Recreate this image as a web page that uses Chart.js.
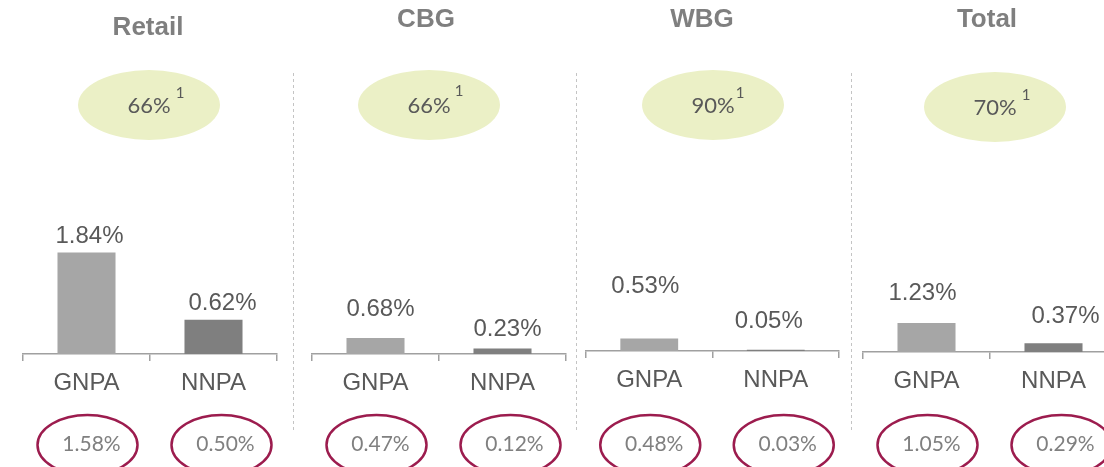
<!DOCTYPE html>
<html>
<head>
<meta charset="utf-8">
<script src="https://cdn.jsdelivr.net/npm/chart.js@4/dist/chart.umd.min.js"></script>
<style>
    html, body { margin: 0; padding: 0; background: #fff; }
    body { width: 1104px; height: 467px; position: relative; overflow: hidden; }
    canvas { position: absolute; top: 0; }
</style>
</head>
<body>
<script>
// asset quality by segment, current vs previous period
const segments = ['Retail', 'CBG', 'WBG', 'Total'];
const categories = ['GNPA', 'NNPA'];
const gnpa = [1.84, 0.68, 0.53, 1.23];
const nnpa = [0.62, 0.23, 0.05, 0.37];
const gnpaPrev = [1.58, 0.47, 0.48, 1.05];
const nnpaPrev = [0.50, 0.12, 0.03, 0.29];
const coverage = [66, 66, 90, 70];

const H = 467;
const TOP = 60;

// where each panel sits on the page
const panels = [
    { left: 0,   width: 293, axisLeft: 23,  axisRight: 277,  baseline: 354, pxPerPct: 55.2, titleX: 148, titleY: 28, pcrX: 149, pcrY: 105, supX: 180, supY: 93 },
    { left: 293, width: 283, axisLeft: 312, axisRight: 566,  baseline: 354, pxPerPct: 23.5, titleX: 426, titleY: 20, pcrX: 429, pcrY: 105, supX: 459, supY: 91 },
    { left: 576, width: 275, axisLeft: 586, axisRight: 839,  baseline: 351, pxPerPct: 23.5, titleX: 702, titleY: 20, pcrX: 713, pcrY: 105, supX: 740, supY: 93 },
    { left: 851, width: 275, axisLeft: 863, axisRight: 1117, baseline: 352, pxPerPct: 23.5, titleX: 987, titleY: 20, pcrX: 995, pcrY: 107, supX: 1026, supY: 95 }
];

// value labels were hand placed: [dx from bar centre, lift above bar top]
const labelNudge = [
    [[3, 16], [9, 16]],
    [[5, 29], [5, 19]],
    [[-4, 52], [-7, 28]],
    [[-4, 30], [12, 27]]
];

const SANS = '"Liberation Sans", Arial, sans-serif';
const SOFT = 'Lato, "Open Sans", sans-serif';

function panelDecor(idx) {
    const p = panels[idx];
    return {
        id: 'panelDecor' + idx,
        afterDraw(chart) {
            const ctx = chart.ctx;
            const ox = p.left;
            ctx.save();

            // dashed divider on the left edge
            if (idx > 0) {
                ctx.strokeStyle = '#c4c4c4';
                ctx.lineWidth = 1;
                ctx.setLineDash([3, 3]);
                ctx.beginPath();
                ctx.moveTo(0.5, 73);
                ctx.lineTo(0.5, 432);
                ctx.stroke();
                ctx.setLineDash([]);
            }

            // segment title
            ctx.fillStyle = '#7f7f7f';
            ctx.font = 'bold 26px ' + SANS;
            ctx.textAlign = 'center';
            ctx.textBaseline = 'middle';
            ctx.fillText(segments[idx], p.titleX - ox, p.titleY);

            // coverage bubble
            const cx = p.pcrX - ox;
            ctx.fillStyle = '#ebf0c6';
            ctx.beginPath();
            ctx.ellipse(cx, p.pcrY, 71, 35, 0, 0, Math.PI * 2);
            ctx.fill();
            ctx.fillStyle = '#595959';
            ctx.font = '22px ' + SOFT;
            ctx.fillText(coverage[idx] + '%', cx, p.pcrY + 1);
            ctx.font = '15px ' + SOFT;
            ctx.fillText('1', p.supX - ox, p.supY);

            // value labels above the bars
            const meta = chart.getDatasetMeta(0);
            const now = [gnpa[idx], nnpa[idx]];
            const prev = [gnpaPrev[idx], nnpaPrev[idx]];
            meta.data.forEach((bar, i) => {
                const [dx, lift] = labelNudge[idx][i];
                ctx.fillStyle = '#595959';
                ctx.font = '24px ' + SANS;
                ctx.fillText(now[i].toFixed(2) + '%', bar.x + dx, bar.y - lift);

                // previous period in red rings
                const ex = bar.x + (i === 0 ? 1 : 8);
                ctx.strokeStyle = '#9c1c4e';
                ctx.lineWidth = 2.5;
                ctx.beginPath();
                ctx.ellipse(ex, 445, 50, 30, 0, 0, Math.PI * 2);
                ctx.stroke();
                ctx.fillStyle = '#808080';
                ctx.font = '21px ' + SOFT;
                ctx.fillText(prev[i].toFixed(2) + '%', ex + 4, 444);
            });

            ctx.restore();
        }
    };
}

panels.forEach((p, idx) => {
    const canvas = document.createElement('canvas');
    canvas.width = p.width;
    canvas.height = H;
    canvas.style.left = p.left + 'px';
    canvas.style.width = p.width + 'px';
    canvas.style.height = H + 'px';
    document.body.appendChild(canvas);

    new Chart(canvas.getContext('2d'), {
        type: 'bar',
        data: {
            labels: categories,
            datasets: [{
                data: [gnpa[idx], nnpa[idx]],
                backgroundColor: ['#a6a6a6', '#7f7f7f'],
                barPercentage: 0.457,
                categoryPercentage: 1
            }]
        },
        options: {
            responsive: false,
            animation: false,
            devicePixelRatio: 1,
            layout: {
                padding: {
                    left: p.axisLeft - p.left,
                    right: p.left + p.width - p.axisRight,
                    top: TOP,
                    bottom: 0
                }
            },
            plugins: {
                legend: { display: false },
                tooltip: { enabled: false }
            },
            scales: {
                x: {
                    offset: true,
                    grid: {
                        offset: true,
                        drawOnChartArea: false,
                        tickLength: 7,
                        color: '#a0a0a0',
                        lineWidth: 1.5
                    },
                    border: { color: '#a0a0a0', width: 1.5 },
                    ticks: {
                        color: '#595959',
                        font: { family: SANS, size: 24 },
                        padding: 8
                    },
                    afterFit(scale) {
                        scale.height = H - p.baseline;
                    }
                },
                y: {
                    display: false,
                    min: 0,
                    max: (p.baseline - TOP) / p.pxPerPct
                }
            }
        },
        plugins: [panelDecor(idx)]
    });
});
</script>
</body>
</html>
